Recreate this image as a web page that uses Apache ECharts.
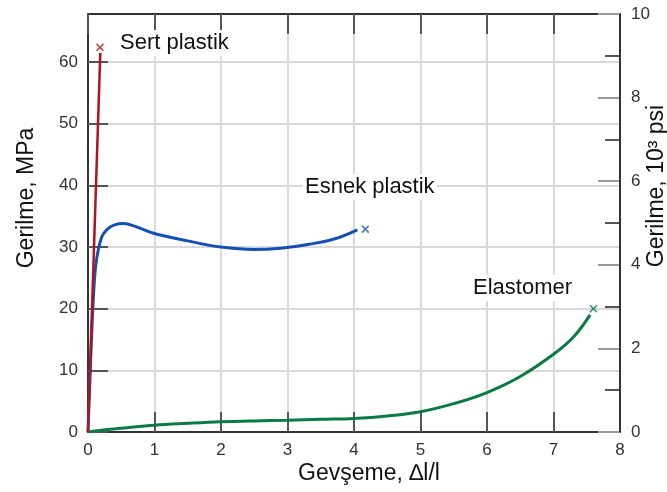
<!DOCTYPE html>
<html><head><meta charset="utf-8">
<script src="https://cdn.jsdelivr.net/npm/echarts@6/dist/echarts.min.js"></script>
<style>html,body{margin:0;padding:0;background:#fff}#c{width:667px;height:492px}</style>
</head><body><div id="c"></div>
<script>
// Sert plastik (rigid plastic)
const sertX = [0, 0.185];
const sertY = [0, 61.5];
// Esnek plastik (flexible plastic)
const esnekX = [0, 0.06, 0.1, 0.135, 0.21, 0.3, 0.4, 0.54, 0.7, 1.0, 1.5, 2.0, 2.5, 2.9, 3.3, 3.7, 4.05];
const esnekY = [0, 17, 25.2, 28.4, 31.7, 33.0, 33.6, 33.8, 33.4, 32.2, 31.0, 30.0, 29.6, 29.8, 30.4, 31.3, 32.8];
// Elastomer
const elasX = [0, 0.2, 0.5, 1, 1.5, 2, 2.5, 3, 3.5, 4, 4.5, 5, 5.5, 6, 6.5, 7, 7.3, 7.55];
const elasY = [0, 0.3, 0.6, 1.1, 1.4, 1.65, 1.8, 1.9, 2.05, 2.2, 2.6, 3.3, 4.6, 6.4, 9.0, 12.6, 15.4, 19.0];
// break points (x markers)
const breakX = [0.18, 4.17, 7.6];
const breakY = [62.4, 32.9, 20.0];
const seriesNames = ['Sert plastik', 'Esnek plastik', 'Elastomer'];
const colors = ['#b0141c', '#1450b4', '#0a7a45'];
// axes
const xMin = 0, xMax = 8, xStep = 1;
const mpaMax = 67.8, mpaStep = 10;
const psiMax = 10, psiStep = 2;

const zip = (xs, ys) => xs.map((x, i) => [x, ys[i]]);
const xPath = 'path://M0,1.4L1.4,0L5,3.6L8.6,0L10,1.4L6.4,5L10,8.6L8.6,10L5,6.4L1.4,10L0,8.6L3.6,5Z';
const font = '"Liberation Sans", Arial, Helvetica, sans-serif';
const frameLine = () => ({show: true, onZero: false, lineStyle: {color: '#333', width: 2}});

const chart = echarts.init(document.getElementById('c'), null, {renderer: 'canvas'});
chart.setOption({
  animation: false,
  backgroundColor: '#fff',
  grid: {left: 88, right: 47, top: 14, bottom: 60, containLabel: false, outerBoundsMode: 'none'},
  xAxis: [{
    type: 'value', min: xMin, max: xMax, interval: xStep, position: 'bottom',
    name: 'Gevşeme, ∆l/l', nameLocation: 'middle', nameGap: 30, nameMoveOverlap: false,
    nameTextStyle: {fontFamily: font, fontSize: 23, color: '#111', padding: [0, 0, 0, 30]},
    axisLine: frameLine(),
    axisTick: {show: true, inside: true, length: 20, lineStyle: {color: '#555', width: 2}},
    axisLabel: {fontFamily: font, fontSize: 17, color: '#333', margin: 10},
    splitLine: {show: true, lineStyle: {color: '#d9d9d9', width: 2}}
  }, {
    type: 'value', min: xMin, max: xMax, interval: xStep, position: 'top',
    axisLine: frameLine(),
    axisTick: {show: true, inside: true, length: 20, lineStyle: {color: '#555', width: 2}},
    axisLabel: {show: false}, splitLine: {show: false}
  }],
  yAxis: [{
    type: 'value', min: 0, max: mpaMax, interval: mpaStep, position: 'left',
    name: 'Gerilme, MPa', nameLocation: 'middle', nameGap: 50, nameMoveOverlap: false,
    nameTextStyle: {fontFamily: font, fontSize: 23, color: '#111', padding: [0, 0, 0, 50]},
    axisLine: frameLine(),
    axisTick: {show: true, inside: true, length: 20, lineStyle: {color: '#555', width: 2}},
    axisLabel: {fontFamily: font, fontSize: 17, color: '#333', margin: 10, showMaxLabel: false},
    splitLine: {show: true, lineStyle: {color: '#d9d9d9', width: 2}}
  }, {
    type: 'value', min: 0, max: psiMax, interval: psiStep, position: 'right',
    name: 'Gerilme, 10³ psi', nameLocation: 'middle', nameGap: 25, nameRotate: 90, nameMoveOverlap: false,
    nameTextStyle: {fontFamily: font, fontSize: 23, color: '#111', padding: [0, 0, 0, 74]},
    axisLine: frameLine(),
    axisTick: {show: true, inside: true, length: 22, lineStyle: {color: '#999', width: 2}},
    minorTick: {show: true, splitNumber: 2, length: 15, lineStyle: {color: '#555', width: 2}},
    axisLabel: {fontFamily: font, fontSize: 17, color: '#333', margin: 11},
    splitLine: {show: false}
  }, {
    type: 'value', min: 0, max: psiMax, position: 'right', offset: 0,
    axisLine: frameLine(), axisTick: {show: false}, axisLabel: {show: false}, splitLine: {show: false}
  }],
  series: [
    {name: seriesNames[1], type: 'line', smooth: 0.4, showSymbol: false, data: zip(esnekX, esnekY), lineStyle: {color: colors[1], width: 3}, z: 3},
    {name: seriesNames[2], type: 'line', smooth: 0.4, showSymbol: false, data: zip(elasX, elasY), lineStyle: {color: colors[2], width: 3}, z: 3},
    {name: seriesNames[0], type: 'line', showSymbol: false, data: zip(sertX, sertY), lineStyle: {color: colors[0], width: 2.5}, z: 4},
    {name: 'breaks', type: 'scatter', symbol: xPath, symbolSize: 8, z: 5, clip: false,
      data: breakX.map((x, i) => ({value: [x, breakY[i]], itemStyle: {color: colors[i]}})),
      markLine: {silent: true, symbol: 'none', label: {show: false}, animation: false, z: 20,
        lineStyle: {color: '#333', width: 2, type: 'solid', opacity: 1}, data: [{xAxis: xMax}]}}
  ],
  graphic: [
    {type: 'text', left: 118, top: 30, z: 10, style: {text: seriesNames[0], font: '22px ' + font, fill: '#111', backgroundColor: '#fff', padding: [2, 2]}},
    {type: 'text', left: 303, top: 174, z: 10, style: {text: seriesNames[1], font: '22px ' + font, fill: '#111', backgroundColor: '#fff', padding: [2, 2]}},
    {type: 'text', left: 471, top: 275, z: 10, style: {text: seriesNames[2], font: '22px ' + font, fill: '#111', backgroundColor: '#fff', padding: [2, 2]}}
  ]
});
</script></body></html>
